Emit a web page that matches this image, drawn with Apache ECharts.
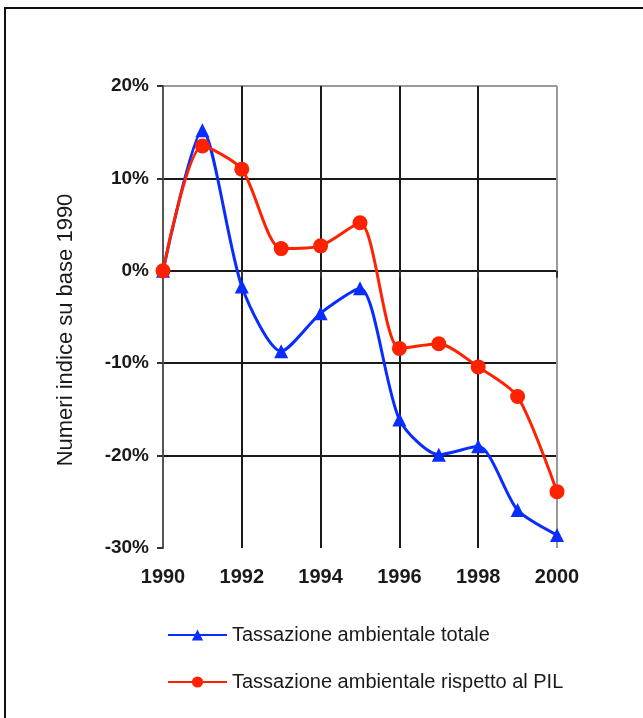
<!DOCTYPE html>
<html><head><meta charset="utf-8">
<script src="https://cdn.jsdelivr.net/npm/echarts@6/dist/echarts.min.js"></script>
<style>html,body{margin:0;padding:0;background:#fff}#c{width:643px;height:718px}</style>
</head><body><div id="c"></div>
<script>
const years = [1990,1991,1992,1993,1994,1995,1996,1997,1998,1999,2000];
const totale = [0, 15.2, -1.7, -8.7, -4.6, -1.9, -16.1, -19.9, -19.0, -25.9, -28.6];
const rispettoPIL = [0, 13.5, 11.0, 2.4, 2.7, 5.2, -8.4, -7.9, -10.4, -13.6, -23.9];
const seriesNames = ['Tassazione ambientale totale', 'Tassazione ambientale rispetto al PIL'];
const yTicks = [-30, -20, -10, 0, 10, 20];
const xTicks = [1990, 1992, 1994, 1996, 1998, 2000];

const chart = echarts.init(document.getElementById('c'), null, {renderer: 'canvas'});
const font = '"Liberation Sans", Arial, sans-serif';
chart.setOption({
  animation: false,
  backgroundColor: '#fff',
  graphic: [{
    type: 'rect', z: 100,
    shape: {x: 5, y: 8, width: 900, height: 900},
    style: {fill: 'none', stroke: '#111', lineWidth: 2}
  }],
  grid: {left: 163, right: 86, top: 86, bottom: 170},
  xAxis: {
    type: 'value', min: xTicks[0], max: xTicks[xTicks.length - 1], interval: 2,
    axisLine: {show: false},
    axisTick: {show: true, length: 7, lineStyle: {color: '#333', width: 2}},
    axisLabel: {margin: 19, fontFamily: font, fontWeight: 'bold', fontSize: 20, color: '#1a1a1a',
      formatter: v => String(v)},
    splitLine: {show: true, lineStyle: {width: 2, color: ['transparent', '#1a1a1a', '#1a1a1a', '#1a1a1a', '#1a1a1a', '#999']}}
  },
  yAxis: {
    type: 'value', min: yTicks[0], max: yTicks[yTicks.length - 1], interval: 10,
    name: 'Numeri indice su base 1990', nameLocation: 'middle', nameRotate: 90, nameGap: 86,
    nameTextStyle: {fontFamily: font, fontSize: 22, color: '#1a1a1a', padding: [0, 26, 0, 0]},
    axisLine: {show: true, lineStyle: {color: '#555', width: 2}},
    axisTick: {show: true, length: 6, lineStyle: {color: '#333', width: 2}},
    axisLabel: {margin: 14, fontFamily: font, fontWeight: 'bold', fontSize: 19, color: '#1a1a1a',
      formatter: v => v + '%'},
    splitLine: {show: true, lineStyle: {width: 2, color: ['transparent', '#1a1a1a', '#1a1a1a', '#1a1a1a', '#1a1a1a', '#999']}}
  },
  legend: {
    orient: 'vertical', left: 162, top: 620, itemGap: 27, itemWidth: 59, itemHeight: 14,
    textStyle: {fontFamily: font, fontSize: 20, color: '#1a1a1a'},
    data: seriesNames
  },
  series: [
    {
      name: seriesNames[0], type: 'line', smooth: 0.25,
      data: years.map((y, i) => [y, totale[i]]),
      symbol: 'triangle', symbolSize: 14,
      lineStyle: {color: '#0a2dff', width: 3},
      itemStyle: {color: '#0a2dff'}
    },
    {
      name: seriesNames[1], type: 'line', smooth: 0.25,
      data: years.map((y, i) => [y, rispettoPIL[i]]),
      symbol: 'circle', symbolSize: 15,
      lineStyle: {color: '#ff2200', width: 3},
      itemStyle: {color: '#ff2200'}
    }
  ]
});
</script></body></html>
